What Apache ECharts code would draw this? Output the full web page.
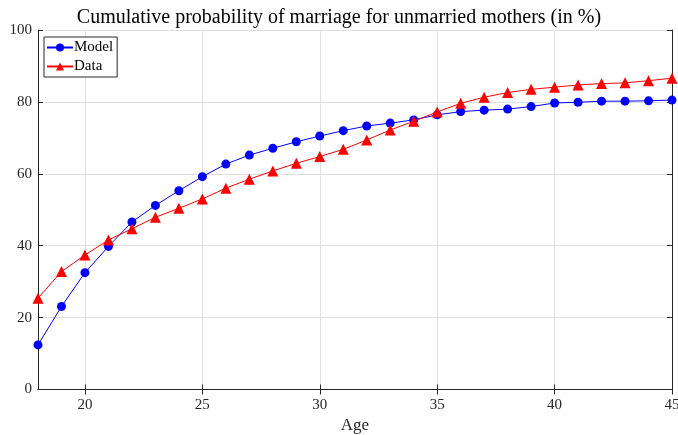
<!DOCTYPE html>
<html><head><meta charset="utf-8">
<script src="https://cdn.jsdelivr.net/npm/echarts@6/dist/echarts.min.js"></script>
<style>html,body{margin:0;padding:0;background:#fff;overflow:hidden}#c{width:678px;height:435px}</style>
</head><body><div id="c"></div>
<script>
const ages = [18,19,20,21,22,23,24,25,26,27,28,29,30,31,32,33,34,35,36,37,38,39,40,41,42,43,44,45];
const modelVals = [12.4,23.1,32.5,39.8,46.6,51.2,55.3,59.2,62.7,65.2,67.1,68.9,70.5,72.0,73.3,74.1,75.0,76.4,77.3,77.7,78.0,78.7,79.7,79.9,80.2,80.2,80.3,80.5];
const dataVals = [25.4,32.8,37.4,41.6,44.7,47.9,50.4,53.0,56.0,58.5,60.8,62.9,64.8,66.8,69.4,72.2,74.6,77.2,79.6,81.3,82.6,83.5,84.1,84.7,85.1,85.3,85.9,86.6];
const xTicks = [20,25,30,35,40,45];
const yTicks = [0,20,40,60,80,100];
const titleText = 'Cumulative probability of marriage for unmarried mothers (in %)';
const xName = 'Age';

const font = 'Liberation Serif';
const axisCol = '#262626';
const chart = echarts.init(document.getElementById('c'));
const baseX = {type:'value', min:18, max:45, gridIndex:0};
chart.setOption({
  animation:false,
  textStyle:{fontFamily:font},
  title:{text:titleText, left:'center', top:3, textStyle:{fontFamily:font, fontSize:20, fontWeight:'normal', color:'#000'}},
  grid:{left:38, right:6, top:30, bottom:45.5, containLabel:false, outerBoundsMode:'none'},
  legend:{
    left:44, top:37, orient:'vertical', itemGap:4, itemWidth:26, itemHeight:10,
    padding:[3,4,3,2], borderColor:'#262626', borderWidth:1, backgroundColor:'#fff',
    textStyle:{fontFamily:font, fontSize:15, color:'#000', padding:[0,0,0,-4]},
    data:['Model','Data']
  },
  xAxis:[
    Object.assign({}, baseX, {position:'bottom', name:xName, nameLocation:'middle', nameGap:28,
      nameTextStyle:{fontFamily:font, fontSize:17, color:axisCol},
      axisLine:{show:true, lineStyle:{color:axisCol, width:1}},
      axisTick:{show:true, inside:true, length:5, customValues:xTicks, lineStyle:{color:axisCol}},
      axisLabel:{show:true, customValues:xTicks, fontFamily:font, fontSize:15, color:axisCol, margin:8},
      splitLine:{show:true, lineStyle:{color:'#dfdfdf', width:1}}
    }),
    Object.assign({}, baseX, {position:'top',
      axisLine:{show:true, lineStyle:{color:axisCol, width:1}},
      axisTick:{show:true, inside:true, length:5, customValues:xTicks, lineStyle:{color:axisCol}},
      axisLabel:{show:false}, splitLine:{show:false}
    })
  ],
  yAxis:[
    {type:'value', min:0, max:100, interval:20, position:'left',
      axisLine:{show:true, lineStyle:{color:axisCol, width:1}},
      axisTick:{show:true, inside:true, length:5, lineStyle:{color:axisCol}},
      axisLabel:{fontFamily:font, fontSize:15, color:axisCol, margin:6,
        customValues:yTicks},
      splitLine:{show:true, lineStyle:{color:'#dfdfdf', width:1}}
    },
    {type:'value', min:0, max:100, interval:20, position:'right',
      axisLine:{show:true, lineStyle:{color:axisCol, width:1}},
      axisTick:{show:true, inside:true, length:5, lineStyle:{color:axisCol}},
      axisLabel:{show:false}, splitLine:{show:false}
    }
  ],
  series:[
    {name:'Model', type:'line', xAxisIndex:0, yAxisIndex:0,
      data:ages.map((a,i)=>[a, modelVals[i]]),
      symbol:'circle', symbolSize:9, color:'#0000ff',
      lineStyle:{color:'#0000ff', width:1}, itemStyle:{color:'#0000ff'}, z:3},
    {name:'Data', type:'line', xAxisIndex:0, yAxisIndex:0,
      data:ages.map((a,i)=>[a, dataVals[i]]),
      symbol:'triangle', symbolSize:11, color:'#ff0000',
      lineStyle:{color:'#ff0000', width:1}, itemStyle:{color:'#ff0000'}, z:4}
  ]
});
</script></body></html>
